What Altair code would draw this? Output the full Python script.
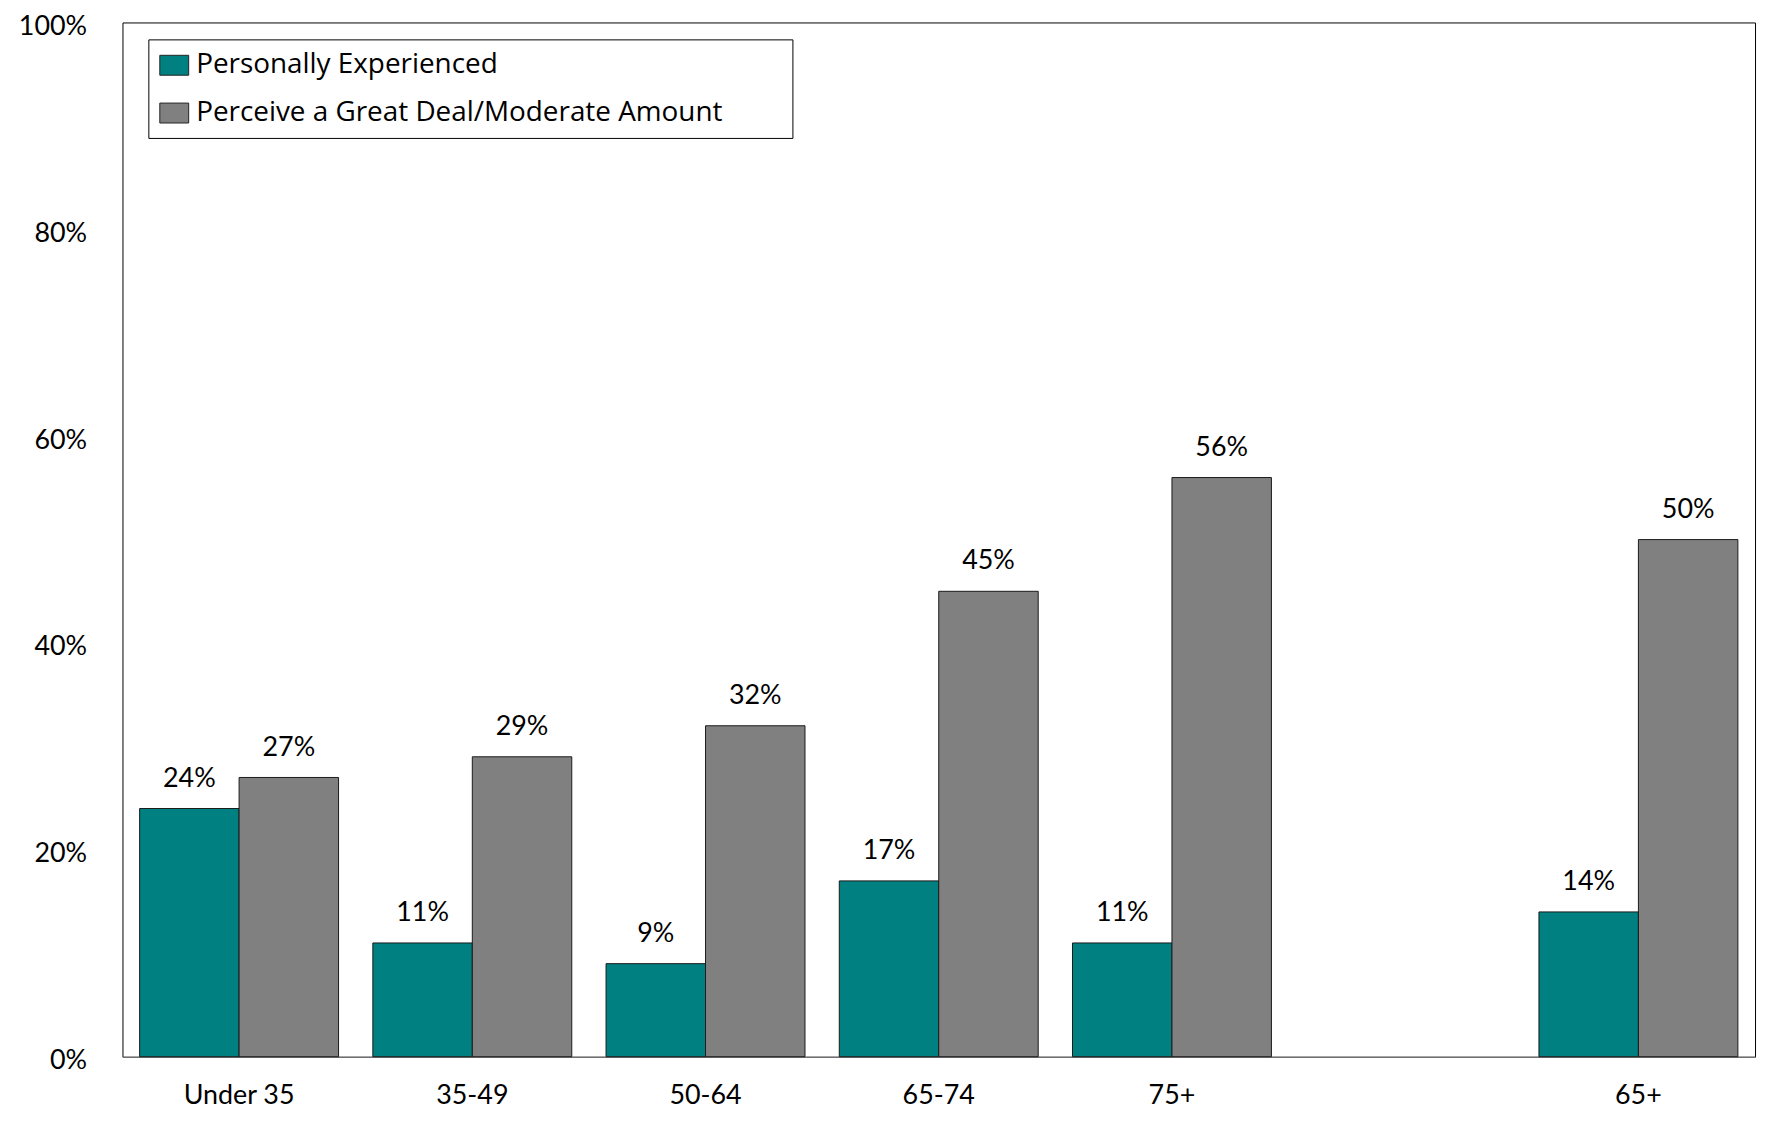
import altair as alt
import pandas as pd

categories = ["Under 35", "35-49", "50-64", "65-74", "75+", " ", "65+"]
groups = ["Under 35", "35-49", "50-64", "65-74", "75+", "65+"]
series = ["Personally Experienced", "Perceive a Great Deal/Moderate Amount"]
personally = [24, 11, 9, 17, 11, 14]
perceive = [27, 29, 32, 45, 56, 50]
colors = ["#008080", "#808080"]
y_ticks = [0, 0.2, 0.4, 0.6, 0.8, 1.0]

rows = []
for g, a, b in zip(groups, personally, perceive):
    rows.append({"group": g, "series": series[0], "value": a / 100})
    rows.append({"group": g, "series": series[1], "value": b / 100})
df = pd.DataFrame(rows)

FONT = "Lato"
FS = 27
LFONT = "Open Sans"
LFS = 28

base = alt.Chart(df).encode(
    x=alt.X(
        "group:N",
        sort=categories,
        scale=alt.Scale(domain=categories, paddingInner=0.147, paddingOuter=0.0735),
        axis=alt.Axis(
            title=None, labelAngle=0, ticks=False, tickSize=0, domain=True,
            domainColor="#808080", domainWidth=1, labelFont=FONT, labelFontSize=FS,
            labelColor="black", labelPadding=47, labelBaseline="alphabetic",
        ),
    ),
    xOffset=alt.XOffset("series:N", sort=series,
                        scale=alt.Scale(domain=series, paddingInner=0, paddingOuter=0)),
    y=alt.Y(
        "value:Q",
        scale=alt.Scale(domain=[0, 1], nice=False),
        axis=alt.Axis(
            title=None, format=".0%", values=y_ticks, ticks=False, tickSize=0,
            domain=False, grid=False, labelFont=FONT, labelFontSize=FS,
            labelColor="black", labelPadding=36, labelOffset=4,
        ),
    ),
)

bars = base.mark_bar(stroke="#1a1a1a", strokeWidth=1, opacity=1).encode(
    color=alt.Color(
        "series:N",
        sort=series,
        scale=alt.Scale(domain=series, range=colors),
        legend=alt.Legend(
            title=".", titleOrient="right", titlePadding=56, titleFontSize=10,
            titleColor="white",
            orient="none", legendX=26, legendY=17, padding=11,
            strokeColor="black", fillColor="white",
            labelFont=LFONT, labelFontSize=LFS, labelColor="black",
            symbolType="M-1,-0.69L1,-0.69L1,0.69L-1,0.69Z", symbolSize=841,
            symbolStrokeColor="#222222", symbolStrokeWidth=1, symbolOpacity=1,
            rowPadding=19, labelOffset=7, labelLimit=1000,
        ),
    )
)

text = base.mark_text(baseline="middle", dy=-30, font=FONT, fontSize=FS, color="black").encode(
    text=alt.Text("value:Q", format=".0%")
)

chart = (
    alt.layer(bars, text)
    .properties(
        width=1640, height=1039,
        autosize=alt.AutoSizeParams(type="none"),
        padding={"left": 115, "top": 12, "right": 4, "bottom": 53},
    )
    .configure_view(stroke="black", strokeWidth=1)
    .configure_axis(grid=False)
)

chart.save("out.html", embed_options={"renderer": "svg", "actions": False})
